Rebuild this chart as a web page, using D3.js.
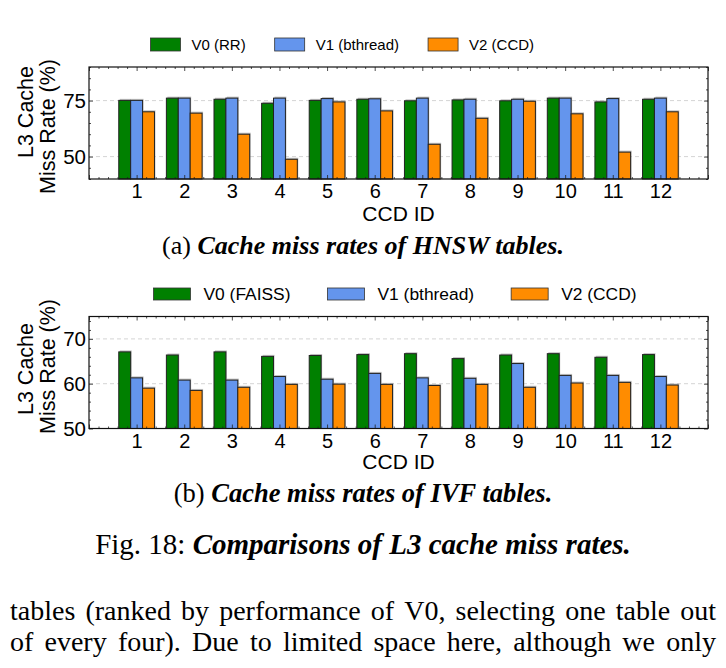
<!DOCTYPE html>
<html>
<head>
<meta charset="utf-8">
<script src="https://cdn.jsdelivr.net/npm/d3@7"></script>
<style>
  body { margin: 0; background: #fff; }
  svg { display: block; }
</style>
</head>
<body>
<div id="chart"></div>
<script>
'use strict';

// CCD ids on the x axis
const ccd_ids = [1, 2, 3, 4, 5, 6, 7, 8, 9, 10, 11, 12]

// (a) HNSW tables, L3 miss rate in %
const hnsw_v0 = [75.1, 76.1, 75.6, 73.8, 75.1, 75.6, 74.9, 75.3, 74.9, 76.1, 74.4, 75.6]
const hnsw_v1 = [75.1, 76.1, 76.1, 76.1, 75.9, 75.8, 76.1, 75.6, 75.6, 76.1, 75.9, 76.1]
const hnsw_v2 = [70.0, 69.4, 60.0, 48.8, 74.4, 70.4, 55.5, 67.1, 74.7, 69.1, 52.0, 70.0]
const hnsw_names = ['V0 (RR)', 'V1 (bthread)', 'V2 (CCD)']
const hnsw_y_ticks = [50, 75]

// (b) IVF tables
const ivf_v0 = [67.1, 66.4, 67.1, 66.1, 66.3, 66.5, 66.7, 65.6, 66.4, 66.7, 65.9, 66.5]
const ivf_v1 = [61.3, 60.8, 60.8, 61.6, 61.0, 62.3, 61.3, 61.2, 64.5, 61.85, 61.85, 61.6]
const ivf_v2 = [59.0, 58.5, 59.2, 59.85, 59.9, 59.85, 59.6, 59.85, 59.2, 60.15, 60.3, 59.7]
const ivf_names = ['V0 (FAISS)', 'V1 (bthread)', 'V2 (CCD)']
const ivf_y_ticks = [50, 60, 70]

const bar_colors = ['#008000', '#6495ed', '#ff8c00']

const sans = "'Liberation Sans', Arial, Helvetica, sans-serif"
const serif = "'Liberation Serif', 'Times New Roman', Times, serif"

const svg = d3.select('#chart')
  .append('svg')
  .attr('width', 726)
  .attr('height', 668)

svg.append('rect')
  .attr('width', 726)
  .attr('height', 668)
  .attr('fill', '#fff')

const xScale = d3.scaleLinear()
  .domain([0, 13])
  .range([89, 708])

const bar_w = 0.25

function draw_panel(opts){
  const p = {
    top: 0,
    bottom: 0,
    y_domain: null,
    y_ticks: null,
    y_minor: 5,
    series: null,
    names: null,
    legend_x: 0,
    legend_y: 0,
    legend_font: 15,
    swatch_w: 30,
    swatch_h: 13,
    swatch_gap: 11,
    item_gap: 29,
    x_title_y: 0,
    y_title_c: null
  }
  Object.keys(opts).map(function(key){
    if(typeof(p[key]) !== 'undefined'){
      p[key] = opts[key]
    }
  })

  const yScale = d3.scaleLinear()
    .domain(p.y_domain)
    .range([p.bottom, p.top])

  const g = svg.append('g')

  // dashed grid at major ticks
  g.append('g')
    .selectAll('line')
    .data(p.y_ticks.filter(d => d > p.y_domain[0] && d < p.y_domain[1]))
    .join('line')
    .attr('x1', xScale.range()[0])
    .attr('x2', xScale.range()[1])
    .attr('y1', d => yScale(d))
    .attr('y2', d => yScale(d))
    .attr('stroke', '#d4d4d4')
    .attr('stroke-width', 1)
    .attr('stroke-dasharray', '4,3')

  // bars, grouped by category
  const rows = ccd_ids.map(function(id, i){
    return p.series.map(function(s, k){
      return {id: id, k: k, value: s[i]}
    })
  }).flat()

  // soft shadow behind each bar
  g.append('g')
    .selectAll('rect')
    .data(rows)
    .join('rect')
    .attr('x', d => xScale(d.id + (d.k - 1.5) * bar_w) + 1)
    .attr('y', d => yScale(d.value) - 1.5)
    .attr('width', xScale(bar_w) - xScale(0))
    .attr('height', d => yScale(p.y_domain[0]) - yScale(d.value))
    .attr('fill', '#8c8c8c')
    .attr('opacity', 0.55)

  g.append('g')
    .selectAll('rect')
    .data(rows)
    .join('rect')
    .attr('x', d => xScale(d.id + (d.k - 1.5) * bar_w))
    .attr('y', d => yScale(d.value))
    .attr('width', xScale(bar_w) - xScale(0))
    .attr('height', d => yScale(p.y_domain[0]) - yScale(d.value))
    .attr('fill', d => bar_colors[d.k])
    .attr('stroke', '#222')
    .attr('stroke-width', 1)

  // ticks on all four sides, pointing in
  const minor_x = d3.range(0, 13.001, 0.2).filter(d => Math.abs(d - Math.round(d)) > 1e-6)
  const minor_y = d3.range(p.y_domain[0], p.y_domain[1] + 0.001, p.y_minor)
    .filter(d => p.y_ticks.indexOf(d) < 0)
  const major_x = d3.range(0, 14)

  const tick_style = sel => {
    sel.select('.domain').remove()
    sel.selectAll('.tick line').attr('stroke', '#222').attr('stroke-width', 0.8)
  }

  g.append('g')
    .attr('transform', `translate(0,${p.top})`)
    .call(d3.axisTop(xScale).tickValues(major_x).tickSize(-4).tickFormat(''))
    .call(tick_style)
  g.append('g')
    .attr('transform', `translate(0,${p.top})`)
    .call(d3.axisTop(xScale).tickValues(minor_x).tickSize(-2).tickFormat(''))
    .call(tick_style)
  g.append('g')
    .attr('transform', `translate(0,${p.bottom})`)
    .call(d3.axisBottom(xScale).tickValues(major_x).tickSize(-4).tickFormat(''))
    .call(tick_style)
  g.append('g')
    .attr('transform', `translate(0,${p.bottom})`)
    .call(d3.axisBottom(xScale).tickValues(minor_x).tickSize(-2).tickFormat(''))
    .call(tick_style)

  // x labels
  g.append('g')
    .attr('transform', `translate(0,${p.bottom})`)
    .call(d3.axisBottom(xScale).tickValues(ccd_ids).tickSize(0).tickPadding(5))
    .call(sel => sel.select('.domain').remove())
    .selectAll('text')
    .style('font-family', sans)
    .style('font-size', '20px')
    .attr('fill', '#000')

  const x_r = xScale.range()
  g.append('g')
    .attr('transform', `translate(${x_r[0]},0)`)
    .call(d3.axisLeft(yScale).tickValues(p.y_ticks).tickSize(-4).tickPadding(3))
    .call(tick_style)
    .selectAll('text')
    .style('font-family', sans)
    .style('font-size', '20.5px')
    .attr('fill', '#000')
  g.append('g')
    .attr('transform', `translate(${x_r[0]},0)`)
    .call(d3.axisLeft(yScale).tickValues(minor_y).tickSize(-2).tickFormat(''))
    .call(tick_style)
  g.append('g')
    .attr('transform', `translate(${x_r[1]},0)`)
    .call(d3.axisRight(yScale).tickValues(p.y_ticks).tickSize(-4).tickFormat(''))
    .call(tick_style)
  g.append('g')
    .attr('transform', `translate(${x_r[1]},0)`)
    .call(d3.axisRight(yScale).tickValues(minor_y).tickSize(-2).tickFormat(''))
    .call(tick_style)

  // frame
  g.append('rect')
    .attr('x', x_r[0])
    .attr('y', p.top)
    .attr('width', x_r[1] - x_r[0])
    .attr('height', p.bottom - p.top)
    .attr('fill', 'none')
    .attr('stroke', '#111')
    .attr('stroke-width', 1.2)

  // y title, two lines
  g.append('text')
    .attr('transform', `translate(33,${p.y_title_c[0]}) rotate(-90)`)
    .attr('text-anchor', 'middle')
    .style('font-family', sans)
    .style('font-size', '21.5px')
    .text('L3 Cache')
  g.append('text')
    .attr('transform', `translate(55,${p.y_title_c[1]}) rotate(-90)`)
    .attr('text-anchor', 'middle')
    .style('font-family', sans)
    .style('font-size', '21.5px')
    .text('Miss Rate (%)')

  // x title
  g.append('text')
    .attr('x', (x_r[0] + x_r[1]) / 2)
    .attr('y', p.x_title_y)
    .attr('text-anchor', 'middle')
    .style('font-family', sans)
    .style('font-size', '21px')
    .text('CCD ID')

  // legend
  const legend_g = g.append('g')
  let cursor = p.legend_x
  p.names.forEach(function(name, k){
    legend_g.append('rect')
      .attr('x', cursor)
      .attr('y', p.legend_y - p.swatch_h / 2)
      .attr('width', p.swatch_w)
      .attr('height', p.swatch_h)
      .attr('fill', bar_colors[k])
      .attr('stroke', '#333')
      .attr('stroke-width', 0.8)
    const t = legend_g.append('text')
      .attr('x', cursor + p.swatch_w + p.swatch_gap)
      .attr('y', p.legend_y)
      .attr('dy', '0.35em')
      .style('font-family', sans)
      .style('font-size', p.legend_font + 'px')
      .text(name)
    cursor += p.swatch_w + p.swatch_gap + t.node().getComputedTextLength() + p.item_gap
  })
}

draw_panel({
  top: 67,
  bottom: 179,
  y_domain: [40, 90],
  y_ticks: hnsw_y_ticks,
  y_minor: 5,
  series: [hnsw_v0, hnsw_v1, hnsw_v2],
  names: hnsw_names,
  legend_x: 150.5,
  legend_y: 44.5,
  legend_font: 15,
  swatch_w: 30,
  swatch_h: 13,
  swatch_gap: 11,
  item_gap: 29,
  x_title_y: 220.5,
  y_title_c: [112, 126.5]
})

draw_panel({
  top: 316.5,
  bottom: 428.5,
  y_domain: [50, 75],
  y_ticks: ivf_y_ticks,
  y_minor: 2,
  series: [ivf_v0, ivf_v1, ivf_v2],
  names: ivf_names,
  legend_x: 153.5,
  legend_y: 294,
  legend_font: 17.4,
  swatch_w: 37,
  swatch_h: 12,
  swatch_gap: 13,
  item_gap: 37,
  x_title_y: 468.5,
  y_title_c: [369, 366.5]
})

// captions
function caption(y, size, plain, emph){
  const t = svg.append('text')
    .attr('x', 363)
    .attr('y', y)
    .attr('text-anchor', 'middle')
    .style('font-family', serif)
    .style('font-size', size + 'px')
  t.append('tspan').text(plain)
  t.append('tspan')
    .style('font-weight', 'bold')
    .style('font-style', 'italic')
    .text(emph)
}
caption(253.5, 26, '(a) ', 'Cache miss rates of HNSW tables.')
caption(501.5, 26.5, '(b) ', 'Cache miss rates of IVF tables.')
caption(554, 29, 'Fig. 18: ', 'Comparisons of L3 cache miss rates.')

// body text, justified between margins
const body_lines = [
  'tables (ranked by performance of V0, selecting one table out',
  'of every four). Due to limited space here, although we only'
]
const body_y = [620, 651]
const body_size = 28
body_lines.forEach(function(line, li){
  const words = line.split(' ')
  const widths = words.map(function(w){
    const tmp = svg.append('text')
      .style('font-family', serif)
      .style('font-size', body_size + 'px')
      .text(w)
    const len = tmp.node().getComputedTextLength()
    tmp.remove()
    return len
  })
  const left = 10, right = 716
  const gap = (right - left - d3.sum(widths)) / (words.length - 1)
  let x = left
  words.forEach(function(w, i){
    svg.append('text')
      .attr('x', x)
      .attr('y', body_y[li])
      .style('font-family', serif)
      .style('font-size', body_size + 'px')
      .text(w)
    x += widths[i] + gap
  })
})
</script>
</body>
</html>
